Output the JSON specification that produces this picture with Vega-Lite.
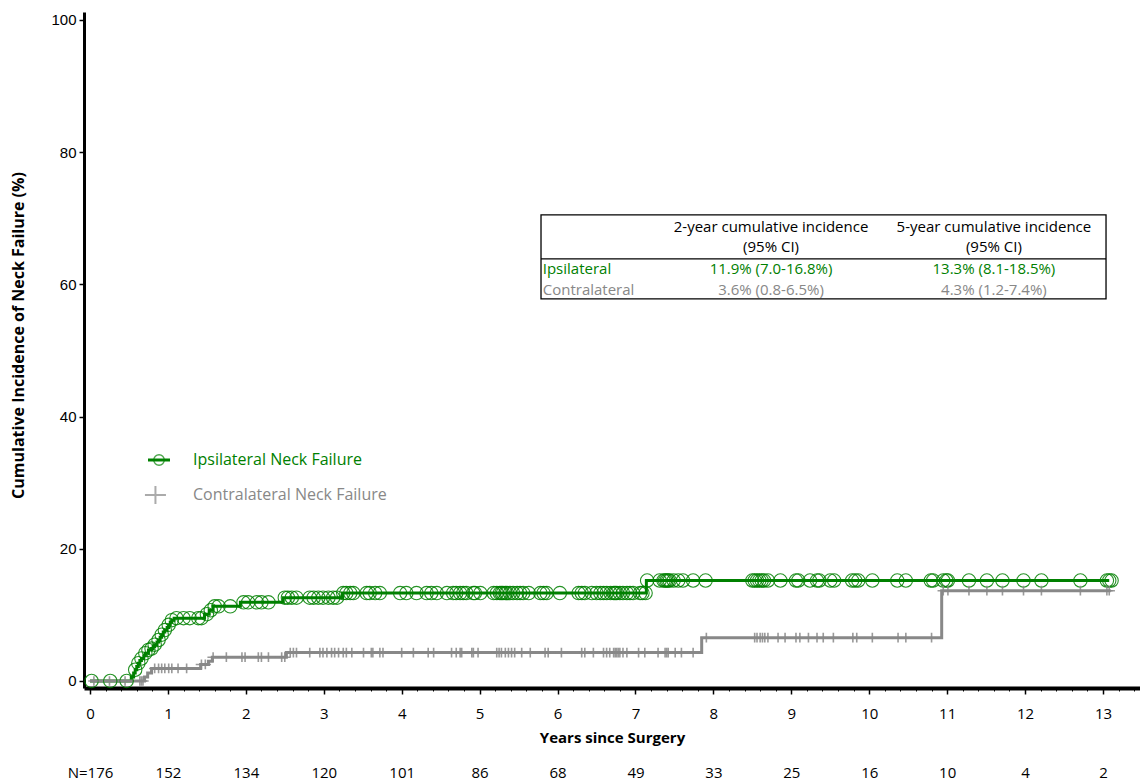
{
  "$schema": "https://vega.github.io/schema/vega-lite/v6.json",
  "width": 1056,
  "height": 676,
  "autosize": {"type": "none"},
  "padding": {"left": 84, "top": 12, "right": 0, "bottom": 96},
  "background": "white",
  "config": {"view": {"stroke": null}},
  "datasets": {
    "curves": [
      {"series": "Ipsilateral Neck Failure", "t": 0, "ci": 0},
      {"series": "Ipsilateral Neck Failure", "t": 0.53, "ci": 0.6},
      {"series": "Ipsilateral Neck Failure", "t": 0.56, "ci": 1.2},
      {"series": "Ipsilateral Neck Failure", "t": 0.58, "ci": 1.7},
      {"series": "Ipsilateral Neck Failure", "t": 0.6, "ci": 2.2},
      {"series": "Ipsilateral Neck Failure", "t": 0.62, "ci": 2.7},
      {"series": "Ipsilateral Neck Failure", "t": 0.64, "ci": 3.1},
      {"series": "Ipsilateral Neck Failure", "t": 0.66, "ci": 3.4},
      {"series": "Ipsilateral Neck Failure", "t": 0.69, "ci": 3.8},
      {"series": "Ipsilateral Neck Failure", "t": 0.71, "ci": 4.2},
      {"series": "Ipsilateral Neck Failure", "t": 0.75, "ci": 4.7},
      {"series": "Ipsilateral Neck Failure", "t": 0.79, "ci": 4.9},
      {"series": "Ipsilateral Neck Failure", "t": 0.81, "ci": 5.2},
      {"series": "Ipsilateral Neck Failure", "t": 0.83, "ci": 5.5},
      {"series": "Ipsilateral Neck Failure", "t": 0.86, "ci": 5.9},
      {"series": "Ipsilateral Neck Failure", "t": 0.88, "ci": 6.2},
      {"series": "Ipsilateral Neck Failure", "t": 0.9, "ci": 6.6},
      {"series": "Ipsilateral Neck Failure", "t": 0.92, "ci": 7.0},
      {"series": "Ipsilateral Neck Failure", "t": 0.94, "ci": 7.4},
      {"series": "Ipsilateral Neck Failure", "t": 0.96, "ci": 7.7},
      {"series": "Ipsilateral Neck Failure", "t": 0.99, "ci": 8.1},
      {"series": "Ipsilateral Neck Failure", "t": 1.01, "ci": 8.5},
      {"series": "Ipsilateral Neck Failure", "t": 1.03, "ci": 8.9},
      {"series": "Ipsilateral Neck Failure", "t": 1.05, "ci": 9.2},
      {"series": "Ipsilateral Neck Failure", "t": 1.08, "ci": 9.5},
      {"series": "Ipsilateral Neck Failure", "t": 1.47, "ci": 10.1},
      {"series": "Ipsilateral Neck Failure", "t": 1.53, "ci": 10.7},
      {"series": "Ipsilateral Neck Failure", "t": 1.58, "ci": 11.3},
      {"series": "Ipsilateral Neck Failure", "t": 1.93, "ci": 11.9},
      {"series": "Ipsilateral Neck Failure", "t": 2.48, "ci": 12.6},
      {"series": "Ipsilateral Neck Failure", "t": 3.24, "ci": 13.3},
      {"series": "Ipsilateral Neck Failure", "t": 7.14, "ci": 15.2},
      {"series": "Ipsilateral Neck Failure", "t": 13.08, "ci": 15.2},
      {"series": "Contralateral Neck Failure", "t": 0, "ci": 0},
      {"series": "Contralateral Neck Failure", "t": 0.7, "ci": 0.6},
      {"series": "Contralateral Neck Failure", "t": 0.74, "ci": 1.2},
      {"series": "Contralateral Neck Failure", "t": 0.79, "ci": 1.9},
      {"series": "Contralateral Neck Failure", "t": 1.42, "ci": 2.5},
      {"series": "Contralateral Neck Failure", "t": 1.52, "ci": 3.0},
      {"series": "Contralateral Neck Failure", "t": 1.57, "ci": 3.6},
      {"series": "Contralateral Neck Failure", "t": 2.52, "ci": 4.3},
      {"series": "Contralateral Neck Failure", "t": 7.85, "ci": 6.55},
      {"series": "Contralateral Neck Failure", "t": 10.93, "ci": 13.66},
      {"series": "Contralateral Neck Failure", "t": 13.1, "ci": 13.66}
    ],
    "censored": [
      {"series": "Ipsilateral Neck Failure", "t": 0.02, "ci": 0},
      {"series": "Ipsilateral Neck Failure", "t": 0.26, "ci": 0},
      {"series": "Ipsilateral Neck Failure", "t": 0.47, "ci": 0},
      {"series": "Ipsilateral Neck Failure", "t": 0.58, "ci": 1.7},
      {"series": "Ipsilateral Neck Failure", "t": 0.62, "ci": 2.7},
      {"series": "Ipsilateral Neck Failure", "t": 0.66, "ci": 3.4},
      {"series": "Ipsilateral Neck Failure", "t": 0.71, "ci": 4.2},
      {"series": "Ipsilateral Neck Failure", "t": 0.75, "ci": 4.7},
      {"series": "Ipsilateral Neck Failure", "t": 0.79, "ci": 4.9},
      {"series": "Ipsilateral Neck Failure", "t": 0.83, "ci": 5.5},
      {"series": "Ipsilateral Neck Failure", "t": 0.88, "ci": 6.2},
      {"series": "Ipsilateral Neck Failure", "t": 0.92, "ci": 7.0},
      {"series": "Ipsilateral Neck Failure", "t": 0.96, "ci": 7.7},
      {"series": "Ipsilateral Neck Failure", "t": 1.01, "ci": 8.5},
      {"series": "Ipsilateral Neck Failure", "t": 1.05, "ci": 9.2},
      {"series": "Ipsilateral Neck Failure", "t": 1.11, "ci": 9.5},
      {"series": "Ipsilateral Neck Failure", "t": 1.2, "ci": 9.5},
      {"series": "Ipsilateral Neck Failure", "t": 1.28, "ci": 9.5},
      {"series": "Ipsilateral Neck Failure", "t": 1.39, "ci": 9.5},
      {"series": "Ipsilateral Neck Failure", "t": 1.43, "ci": 9.5},
      {"series": "Ipsilateral Neck Failure", "t": 1.5, "ci": 10.1},
      {"series": "Ipsilateral Neck Failure", "t": 1.55, "ci": 10.7},
      {"series": "Ipsilateral Neck Failure", "t": 1.6, "ci": 11.3},
      {"series": "Ipsilateral Neck Failure", "t": 1.65, "ci": 11.3},
      {"series": "Ipsilateral Neck Failure", "t": 1.8, "ci": 11.3},
      {"series": "Ipsilateral Neck Failure", "t": 1.97, "ci": 11.9},
      {"series": "Ipsilateral Neck Failure", "t": 2.03, "ci": 11.9},
      {"series": "Ipsilateral Neck Failure", "t": 2.14, "ci": 11.9},
      {"series": "Ipsilateral Neck Failure", "t": 2.2, "ci": 11.9},
      {"series": "Ipsilateral Neck Failure", "t": 2.29, "ci": 11.9},
      {"series": "Ipsilateral Neck Failure", "t": 2.5, "ci": 12.6},
      {"series": "Ipsilateral Neck Failure", "t": 2.54, "ci": 12.6},
      {"series": "Ipsilateral Neck Failure", "t": 2.59, "ci": 12.6},
      {"series": "Ipsilateral Neck Failure", "t": 2.65, "ci": 12.6},
      {"series": "Ipsilateral Neck Failure", "t": 2.82, "ci": 12.6},
      {"series": "Ipsilateral Neck Failure", "t": 2.87, "ci": 12.6},
      {"series": "Ipsilateral Neck Failure", "t": 2.93, "ci": 12.6},
      {"series": "Ipsilateral Neck Failure", "t": 2.99, "ci": 12.6},
      {"series": "Ipsilateral Neck Failure", "t": 3.06, "ci": 12.6},
      {"series": "Ipsilateral Neck Failure", "t": 3.12, "ci": 12.6},
      {"series": "Ipsilateral Neck Failure", "t": 3.17, "ci": 12.6},
      {"series": "Ipsilateral Neck Failure", "t": 3.25, "ci": 13.3},
      {"series": "Ipsilateral Neck Failure", "t": 3.29, "ci": 13.3},
      {"series": "Ipsilateral Neck Failure", "t": 3.34, "ci": 13.3},
      {"series": "Ipsilateral Neck Failure", "t": 3.38, "ci": 13.3},
      {"series": "Ipsilateral Neck Failure", "t": 3.55, "ci": 13.3},
      {"series": "Ipsilateral Neck Failure", "t": 3.59, "ci": 13.3},
      {"series": "Ipsilateral Neck Failure", "t": 3.66, "ci": 13.3},
      {"series": "Ipsilateral Neck Failure", "t": 3.72, "ci": 13.3},
      {"series": "Ipsilateral Neck Failure", "t": 3.98, "ci": 13.3},
      {"series": "Ipsilateral Neck Failure", "t": 4.06, "ci": 13.3},
      {"series": "Ipsilateral Neck Failure", "t": 4.19, "ci": 13.3},
      {"series": "Ipsilateral Neck Failure", "t": 4.32, "ci": 13.3},
      {"series": "Ipsilateral Neck Failure", "t": 4.38, "ci": 13.3},
      {"series": "Ipsilateral Neck Failure", "t": 4.45, "ci": 13.3},
      {"series": "Ipsilateral Neck Failure", "t": 4.58, "ci": 13.3},
      {"series": "Ipsilateral Neck Failure", "t": 4.66, "ci": 13.3},
      {"series": "Ipsilateral Neck Failure", "t": 4.7, "ci": 13.3},
      {"series": "Ipsilateral Neck Failure", "t": 4.75, "ci": 13.3},
      {"series": "Ipsilateral Neck Failure", "t": 4.79, "ci": 13.3},
      {"series": "Ipsilateral Neck Failure", "t": 4.83, "ci": 13.3},
      {"series": "Ipsilateral Neck Failure", "t": 4.92, "ci": 13.3},
      {"series": "Ipsilateral Neck Failure", "t": 4.94, "ci": 13.3},
      {"series": "Ipsilateral Neck Failure", "t": 5.01, "ci": 13.3},
      {"series": "Ipsilateral Neck Failure", "t": 5.18, "ci": 13.3},
      {"series": "Ipsilateral Neck Failure", "t": 5.22, "ci": 13.3},
      {"series": "Ipsilateral Neck Failure", "t": 5.26, "ci": 13.3},
      {"series": "Ipsilateral Neck Failure", "t": 5.28, "ci": 13.3},
      {"series": "Ipsilateral Neck Failure", "t": 5.3, "ci": 13.3},
      {"series": "Ipsilateral Neck Failure", "t": 5.33, "ci": 13.3},
      {"series": "Ipsilateral Neck Failure", "t": 5.35, "ci": 13.3},
      {"series": "Ipsilateral Neck Failure", "t": 5.39, "ci": 13.3},
      {"series": "Ipsilateral Neck Failure", "t": 5.43, "ci": 13.3},
      {"series": "Ipsilateral Neck Failure", "t": 5.48, "ci": 13.3},
      {"series": "Ipsilateral Neck Failure", "t": 5.52, "ci": 13.3},
      {"series": "Ipsilateral Neck Failure", "t": 5.56, "ci": 13.3},
      {"series": "Ipsilateral Neck Failure", "t": 5.63, "ci": 13.3},
      {"series": "Ipsilateral Neck Failure", "t": 5.78, "ci": 13.3},
      {"series": "Ipsilateral Neck Failure", "t": 5.82, "ci": 13.3},
      {"series": "Ipsilateral Neck Failure", "t": 5.86, "ci": 13.3},
      {"series": "Ipsilateral Neck Failure", "t": 6.03, "ci": 13.3},
      {"series": "Ipsilateral Neck Failure", "t": 6.27, "ci": 13.3},
      {"series": "Ipsilateral Neck Failure", "t": 6.31, "ci": 13.3},
      {"series": "Ipsilateral Neck Failure", "t": 6.35, "ci": 13.3},
      {"series": "Ipsilateral Neck Failure", "t": 6.44, "ci": 13.3},
      {"series": "Ipsilateral Neck Failure", "t": 6.5, "ci": 13.3},
      {"series": "Ipsilateral Neck Failure", "t": 6.55, "ci": 13.3},
      {"series": "Ipsilateral Neck Failure", "t": 6.59, "ci": 13.3},
      {"series": "Ipsilateral Neck Failure", "t": 6.63, "ci": 13.3},
      {"series": "Ipsilateral Neck Failure", "t": 6.68, "ci": 13.3},
      {"series": "Ipsilateral Neck Failure", "t": 6.72, "ci": 13.3},
      {"series": "Ipsilateral Neck Failure", "t": 6.74, "ci": 13.3},
      {"series": "Ipsilateral Neck Failure", "t": 6.76, "ci": 13.3},
      {"series": "Ipsilateral Neck Failure", "t": 6.8, "ci": 13.3},
      {"series": "Ipsilateral Neck Failure", "t": 6.84, "ci": 13.3},
      {"series": "Ipsilateral Neck Failure", "t": 6.89, "ci": 13.3},
      {"series": "Ipsilateral Neck Failure", "t": 6.93, "ci": 13.3},
      {"series": "Ipsilateral Neck Failure", "t": 6.97, "ci": 13.3},
      {"series": "Ipsilateral Neck Failure", "t": 7.06, "ci": 13.3},
      {"series": "Ipsilateral Neck Failure", "t": 7.09, "ci": 13.3},
      {"series": "Ipsilateral Neck Failure", "t": 7.13, "ci": 13.3},
      {"series": "Ipsilateral Neck Failure", "t": 7.15, "ci": 15.2},
      {"series": "Ipsilateral Neck Failure", "t": 7.31, "ci": 15.2},
      {"series": "Ipsilateral Neck Failure", "t": 7.36, "ci": 15.2},
      {"series": "Ipsilateral Neck Failure", "t": 7.38, "ci": 15.2},
      {"series": "Ipsilateral Neck Failure", "t": 7.4, "ci": 15.2},
      {"series": "Ipsilateral Neck Failure", "t": 7.42, "ci": 15.2},
      {"series": "Ipsilateral Neck Failure", "t": 7.44, "ci": 15.2},
      {"series": "Ipsilateral Neck Failure", "t": 7.49, "ci": 15.2},
      {"series": "Ipsilateral Neck Failure", "t": 7.55, "ci": 15.2},
      {"series": "Ipsilateral Neck Failure", "t": 7.61, "ci": 15.2},
      {"series": "Ipsilateral Neck Failure", "t": 7.74, "ci": 15.2},
      {"series": "Ipsilateral Neck Failure", "t": 7.9, "ci": 15.2},
      {"series": "Ipsilateral Neck Failure", "t": 8.5, "ci": 15.2},
      {"series": "Ipsilateral Neck Failure", "t": 8.53, "ci": 15.2},
      {"series": "Ipsilateral Neck Failure", "t": 8.56, "ci": 15.2},
      {"series": "Ipsilateral Neck Failure", "t": 8.59, "ci": 15.2},
      {"series": "Ipsilateral Neck Failure", "t": 8.62, "ci": 15.2},
      {"series": "Ipsilateral Neck Failure", "t": 8.65, "ci": 15.2},
      {"series": "Ipsilateral Neck Failure", "t": 8.7, "ci": 15.2},
      {"series": "Ipsilateral Neck Failure", "t": 8.86, "ci": 15.2},
      {"series": "Ipsilateral Neck Failure", "t": 9.06, "ci": 15.2},
      {"series": "Ipsilateral Neck Failure", "t": 9.09, "ci": 15.2},
      {"series": "Ipsilateral Neck Failure", "t": 9.24, "ci": 15.2},
      {"series": "Ipsilateral Neck Failure", "t": 9.33, "ci": 15.2},
      {"series": "Ipsilateral Neck Failure", "t": 9.36, "ci": 15.2},
      {"series": "Ipsilateral Neck Failure", "t": 9.5, "ci": 15.2},
      {"series": "Ipsilateral Neck Failure", "t": 9.55, "ci": 15.2},
      {"series": "Ipsilateral Neck Failure", "t": 9.78, "ci": 15.2},
      {"series": "Ipsilateral Neck Failure", "t": 9.82, "ci": 15.2},
      {"series": "Ipsilateral Neck Failure", "t": 9.86, "ci": 15.2},
      {"series": "Ipsilateral Neck Failure", "t": 10.04, "ci": 15.2},
      {"series": "Ipsilateral Neck Failure", "t": 10.36, "ci": 15.2},
      {"series": "Ipsilateral Neck Failure", "t": 10.47, "ci": 15.2},
      {"series": "Ipsilateral Neck Failure", "t": 10.79, "ci": 15.2},
      {"series": "Ipsilateral Neck Failure", "t": 10.82, "ci": 15.2},
      {"series": "Ipsilateral Neck Failure", "t": 10.95, "ci": 15.2},
      {"series": "Ipsilateral Neck Failure", "t": 10.99, "ci": 15.2},
      {"series": "Ipsilateral Neck Failure", "t": 11.01, "ci": 15.2},
      {"series": "Ipsilateral Neck Failure", "t": 11.28, "ci": 15.2},
      {"series": "Ipsilateral Neck Failure", "t": 11.51, "ci": 15.2},
      {"series": "Ipsilateral Neck Failure", "t": 11.71, "ci": 15.2},
      {"series": "Ipsilateral Neck Failure", "t": 11.98, "ci": 15.2},
      {"series": "Ipsilateral Neck Failure", "t": 12.21, "ci": 15.2},
      {"series": "Ipsilateral Neck Failure", "t": 12.71, "ci": 15.2},
      {"series": "Ipsilateral Neck Failure", "t": 13.05, "ci": 15.2},
      {"series": "Ipsilateral Neck Failure", "t": 13.08, "ci": 15.2},
      {"series": "Ipsilateral Neck Failure", "t": 13.11, "ci": 15.2},
      {"series": "Contralateral Neck Failure", "t": 0.05, "ci": 0},
      {"series": "Contralateral Neck Failure", "t": 0.25, "ci": 0},
      {"series": "Contralateral Neck Failure", "t": 0.45, "ci": 0},
      {"series": "Contralateral Neck Failure", "t": 0.64, "ci": 0},
      {"series": "Contralateral Neck Failure", "t": 0.66, "ci": 0},
      {"series": "Contralateral Neck Failure", "t": 0.68, "ci": 0},
      {"series": "Contralateral Neck Failure", "t": 0.83, "ci": 1.9},
      {"series": "Contralateral Neck Failure", "t": 0.88, "ci": 1.9},
      {"series": "Contralateral Neck Failure", "t": 0.92, "ci": 1.9},
      {"series": "Contralateral Neck Failure", "t": 0.96, "ci": 1.9},
      {"series": "Contralateral Neck Failure", "t": 1.01, "ci": 1.9},
      {"series": "Contralateral Neck Failure", "t": 1.05, "ci": 1.9},
      {"series": "Contralateral Neck Failure", "t": 1.13, "ci": 1.9},
      {"series": "Contralateral Neck Failure", "t": 1.24, "ci": 1.9},
      {"series": "Contralateral Neck Failure", "t": 1.43, "ci": 2.5},
      {"series": "Contralateral Neck Failure", "t": 1.48, "ci": 2.5},
      {"series": "Contralateral Neck Failure", "t": 1.58, "ci": 3.6},
      {"series": "Contralateral Neck Failure", "t": 1.75, "ci": 3.6},
      {"series": "Contralateral Neck Failure", "t": 1.95, "ci": 3.6},
      {"series": "Contralateral Neck Failure", "t": 1.99, "ci": 3.6},
      {"series": "Contralateral Neck Failure", "t": 2.16, "ci": 3.6},
      {"series": "Contralateral Neck Failure", "t": 2.2, "ci": 3.6},
      {"series": "Contralateral Neck Failure", "t": 2.29, "ci": 3.6},
      {"series": "Contralateral Neck Failure", "t": 2.46, "ci": 3.6},
      {"series": "Contralateral Neck Failure", "t": 2.5, "ci": 3.6},
      {"series": "Contralateral Neck Failure", "t": 2.57, "ci": 4.3},
      {"series": "Contralateral Neck Failure", "t": 2.61, "ci": 4.3},
      {"series": "Contralateral Neck Failure", "t": 2.65, "ci": 4.3},
      {"series": "Contralateral Neck Failure", "t": 2.82, "ci": 4.3},
      {"series": "Contralateral Neck Failure", "t": 2.95, "ci": 4.3},
      {"series": "Contralateral Neck Failure", "t": 2.99, "ci": 4.3},
      {"series": "Contralateral Neck Failure", "t": 3.04, "ci": 4.3},
      {"series": "Contralateral Neck Failure", "t": 3.1, "ci": 4.3},
      {"series": "Contralateral Neck Failure", "t": 3.14, "ci": 4.3},
      {"series": "Contralateral Neck Failure", "t": 3.19, "ci": 4.3},
      {"series": "Contralateral Neck Failure", "t": 3.25, "ci": 4.3},
      {"series": "Contralateral Neck Failure", "t": 3.29, "ci": 4.3},
      {"series": "Contralateral Neck Failure", "t": 3.36, "ci": 4.3},
      {"series": "Contralateral Neck Failure", "t": 3.51, "ci": 4.3},
      {"series": "Contralateral Neck Failure", "t": 3.61, "ci": 4.3},
      {"series": "Contralateral Neck Failure", "t": 3.63, "ci": 4.3},
      {"series": "Contralateral Neck Failure", "t": 3.72, "ci": 4.3},
      {"series": "Contralateral Neck Failure", "t": 3.76, "ci": 4.3},
      {"series": "Contralateral Neck Failure", "t": 4.0, "ci": 4.3},
      {"series": "Contralateral Neck Failure", "t": 4.15, "ci": 4.3},
      {"series": "Contralateral Neck Failure", "t": 4.34, "ci": 4.3},
      {"series": "Contralateral Neck Failure", "t": 4.41, "ci": 4.3},
      {"series": "Contralateral Neck Failure", "t": 4.64, "ci": 4.3},
      {"series": "Contralateral Neck Failure", "t": 4.7, "ci": 4.3},
      {"series": "Contralateral Neck Failure", "t": 4.75, "ci": 4.3},
      {"series": "Contralateral Neck Failure", "t": 4.77, "ci": 4.3},
      {"series": "Contralateral Neck Failure", "t": 4.9, "ci": 4.3},
      {"series": "Contralateral Neck Failure", "t": 4.92, "ci": 4.3},
      {"series": "Contralateral Neck Failure", "t": 4.98, "ci": 4.3},
      {"series": "Contralateral Neck Failure", "t": 5.22, "ci": 4.3},
      {"series": "Contralateral Neck Failure", "t": 5.25, "ci": 4.3},
      {"series": "Contralateral Neck Failure", "t": 5.28, "ci": 4.3},
      {"series": "Contralateral Neck Failure", "t": 5.33, "ci": 4.3},
      {"series": "Contralateral Neck Failure", "t": 5.37, "ci": 4.3},
      {"series": "Contralateral Neck Failure", "t": 5.41, "ci": 4.3},
      {"series": "Contralateral Neck Failure", "t": 5.45, "ci": 4.3},
      {"series": "Contralateral Neck Failure", "t": 5.54, "ci": 4.3},
      {"series": "Contralateral Neck Failure", "t": 5.65, "ci": 4.3},
      {"series": "Contralateral Neck Failure", "t": 5.84, "ci": 4.3},
      {"series": "Contralateral Neck Failure", "t": 5.88, "ci": 4.3},
      {"series": "Contralateral Neck Failure", "t": 6.05, "ci": 4.3},
      {"series": "Contralateral Neck Failure", "t": 6.31, "ci": 4.3},
      {"series": "Contralateral Neck Failure", "t": 6.35, "ci": 4.3},
      {"series": "Contralateral Neck Failure", "t": 6.46, "ci": 4.3},
      {"series": "Contralateral Neck Failure", "t": 6.59, "ci": 4.3},
      {"series": "Contralateral Neck Failure", "t": 6.63, "ci": 4.3},
      {"series": "Contralateral Neck Failure", "t": 6.67, "ci": 4.3},
      {"series": "Contralateral Neck Failure", "t": 6.72, "ci": 4.3},
      {"series": "Contralateral Neck Failure", "t": 6.74, "ci": 4.3},
      {"series": "Contralateral Neck Failure", "t": 6.76, "ci": 4.3},
      {"series": "Contralateral Neck Failure", "t": 6.78, "ci": 4.3},
      {"series": "Contralateral Neck Failure", "t": 6.8, "ci": 4.3},
      {"series": "Contralateral Neck Failure", "t": 6.84, "ci": 4.3},
      {"series": "Contralateral Neck Failure", "t": 6.89, "ci": 4.3},
      {"series": "Contralateral Neck Failure", "t": 7.04, "ci": 4.3},
      {"series": "Contralateral Neck Failure", "t": 7.12, "ci": 4.3},
      {"series": "Contralateral Neck Failure", "t": 7.29, "ci": 4.3},
      {"series": "Contralateral Neck Failure", "t": 7.38, "ci": 4.3},
      {"series": "Contralateral Neck Failure", "t": 7.4, "ci": 4.3},
      {"series": "Contralateral Neck Failure", "t": 7.42, "ci": 4.3},
      {"series": "Contralateral Neck Failure", "t": 7.51, "ci": 4.3},
      {"series": "Contralateral Neck Failure", "t": 7.59, "ci": 4.3},
      {"series": "Contralateral Neck Failure", "t": 7.74, "ci": 4.3},
      {"series": "Contralateral Neck Failure", "t": 7.91, "ci": 6.55},
      {"series": "Contralateral Neck Failure", "t": 8.53, "ci": 6.55},
      {"series": "Contralateral Neck Failure", "t": 8.56, "ci": 6.55},
      {"series": "Contralateral Neck Failure", "t": 8.6, "ci": 6.55},
      {"series": "Contralateral Neck Failure", "t": 8.63, "ci": 6.55},
      {"series": "Contralateral Neck Failure", "t": 8.66, "ci": 6.55},
      {"series": "Contralateral Neck Failure", "t": 8.7, "ci": 6.55},
      {"series": "Contralateral Neck Failure", "t": 8.83, "ci": 6.55},
      {"series": "Contralateral Neck Failure", "t": 8.92, "ci": 6.55},
      {"series": "Contralateral Neck Failure", "t": 9.06, "ci": 6.55},
      {"series": "Contralateral Neck Failure", "t": 9.11, "ci": 6.55},
      {"series": "Contralateral Neck Failure", "t": 9.22, "ci": 6.55},
      {"series": "Contralateral Neck Failure", "t": 9.33, "ci": 6.55},
      {"series": "Contralateral Neck Failure", "t": 9.41, "ci": 6.55},
      {"series": "Contralateral Neck Failure", "t": 9.54, "ci": 6.55},
      {"series": "Contralateral Neck Failure", "t": 9.79, "ci": 6.55},
      {"series": "Contralateral Neck Failure", "t": 9.84, "ci": 6.55},
      {"series": "Contralateral Neck Failure", "t": 10.04, "ci": 6.55},
      {"series": "Contralateral Neck Failure", "t": 10.37, "ci": 6.55},
      {"series": "Contralateral Neck Failure", "t": 10.47, "ci": 6.55},
      {"series": "Contralateral Neck Failure", "t": 10.8, "ci": 6.55},
      {"series": "Contralateral Neck Failure", "t": 10.95, "ci": 13.66},
      {"series": "Contralateral Neck Failure", "t": 11.01, "ci": 13.66},
      {"series": "Contralateral Neck Failure", "t": 11.28, "ci": 13.66},
      {"series": "Contralateral Neck Failure", "t": 11.51, "ci": 13.66},
      {"series": "Contralateral Neck Failure", "t": 11.71, "ci": 13.66},
      {"series": "Contralateral Neck Failure", "t": 11.98, "ci": 13.66},
      {"series": "Contralateral Neck Failure", "t": 12.21, "ci": 13.66},
      {"series": "Contralateral Neck Failure", "t": 12.71, "ci": 13.66},
      {"series": "Contralateral Neck Failure", "t": 13.05, "ci": 13.66},
      {"series": "Contralateral Neck Failure", "t": 13.08, "ci": 13.66}
    ]
  },
  "resolve": {"axis": {"x": "independent", "y": "independent"}},
  "layer": [
    {
      "data": {"values": [{"k": 1}]},
      "mark": {"type": "rect", "fill": "white", "stroke": "black", "strokeWidth": 1.3},
      "encoding": {
        "x": {"datum": 5.788, "type": "quantitative", "scale": {"domain": [-0.077, 13.475], "nice": false, "zero": false},
          "axis": {"orient": "bottom", "values": [0.2,0.4,0.6,0.8,1.2,1.4,1.6,1.8,2.2,2.4,2.6,2.8,3.2,3.4,3.6,3.8,4.2,4.4,4.6,4.8,5.2,5.4,5.6,5.8,6.2,6.4,6.6,6.8,7.2,7.4,7.6,7.8,8.2,8.4,8.6,8.8,9.2,9.4,9.6,9.8,10.2,10.4,10.6,10.8,11.2,11.4,11.6,11.8,12.2,12.4,12.6,12.8,13.2,13.4], "labels": false, "domain": false, "ticks": true, "tickSize": 3, "tickWidth": 1, "tickColor": "black", "grid": false, "title": null}},
        "x2": {"datum": 13.039},
        "y": {"datum": 70.5, "type": "quantitative", "scale": {"domain": [-1.06, 101.2], "nice": false, "zero": false}, "axis": null},
        "y2": {"datum": 57.79}
      }
    },
    {
      "data": {"values": [{"k": 1}]},
      "mark": {"type": "rule", "stroke": "black", "strokeWidth": 1.3},
      "encoding": {
        "x": {"datum": 5.788, "type": "quantitative", "axis": null},
        "x2": {"datum": 13.039},
        "y": {"datum": 63.84, "type": "quantitative", "axis": null}
      }
    },
    {
      "data": {"values": [{"k": 1}]},
      "mark": {"type": "text", "font": "Open Sans", "fontSize": 15, "color": "black", "align": "center", "baseline": "middle", "lineHeight": 20},
      "encoding": {
        "x": {"datum": 8.74, "type": "quantitative", "axis": null},
        "y": {"datum": 68.7, "type": "quantitative", "axis": null},
        "text": {"value": ["2-year cumulative incidence", "(95% CI)"]}
      }
    },
    {
      "data": {"values": [{"k": 1}]},
      "mark": {"type": "text", "font": "Open Sans", "fontSize": 15, "color": "black", "align": "center", "baseline": "middle", "lineHeight": 20},
      "encoding": {
        "x": {"datum": 11.6, "type": "quantitative", "axis": null},
        "y": {"datum": 68.7, "type": "quantitative", "axis": null},
        "text": {"value": ["5-year cumulative incidence", "(95% CI)"]}
      }
    },
    {
      "data": {"values": [{"k": 1}]},
      "mark": {"type": "text", "font": "Open Sans", "fontSize": 15, "color": "#008000", "align": "left", "baseline": "middle"},
      "encoding": {
        "x": {"datum": 5.81, "type": "quantitative", "axis": null},
        "y": {"datum": 62.3, "type": "quantitative", "axis": null},
        "text": {"value": "Ipsilateral"}
      }
    },
    {
      "data": {"values": [{"k": 1}]},
      "mark": {"type": "text", "font": "Open Sans", "fontSize": 15, "color": "#888888", "align": "left", "baseline": "middle"},
      "encoding": {
        "x": {"datum": 5.81, "type": "quantitative", "axis": null},
        "y": {"datum": 59.15, "type": "quantitative", "axis": null},
        "text": {"value": "Contralateral"}
      }
    },
    {
      "data": {"values": [{"k": 1}]},
      "mark": {"type": "text", "font": "Open Sans", "fontSize": 15, "color": "#008000", "align": "center", "baseline": "middle"},
      "encoding": {
        "x": {"datum": 8.74, "type": "quantitative", "axis": null},
        "y": {"datum": 62.3, "type": "quantitative", "axis": null},
        "text": {"value": "11.9% (7.0-16.8%)"}
      }
    },
    {
      "data": {"values": [{"k": 1}]},
      "mark": {"type": "text", "font": "Open Sans", "fontSize": 15, "color": "#008000", "align": "center", "baseline": "middle"},
      "encoding": {
        "x": {"datum": 11.6, "type": "quantitative", "axis": null},
        "y": {"datum": 62.3, "type": "quantitative", "axis": null},
        "text": {"value": "13.3% (8.1-18.5%)"}
      }
    },
    {
      "data": {"values": [{"k": 1}]},
      "mark": {"type": "text", "font": "Open Sans", "fontSize": 15, "color": "#888888", "align": "center", "baseline": "middle"},
      "encoding": {
        "x": {"datum": 8.74, "type": "quantitative", "axis": null},
        "y": {"datum": 59.15, "type": "quantitative", "axis": null},
        "text": {"value": "3.6% (0.8-6.5%)"}
      }
    },
    {
      "data": {"values": [{"k": 1}]},
      "mark": {"type": "text", "font": "Open Sans", "fontSize": 15, "color": "#888888", "align": "center", "baseline": "middle"},
      "encoding": {
        "x": {"datum": 11.6, "type": "quantitative", "axis": null},
        "y": {"datum": 59.15, "type": "quantitative", "axis": null},
        "text": {"value": "4.3% (1.2-7.4%)"}
      }
    },
    {
      "data": {"values": [{"k": 1}]},
      "mark": {"type": "rule", "stroke": "#008000", "strokeWidth": 3},
      "encoding": {
        "x": {"datum": 0.744, "type": "quantitative", "axis": null},
        "x2": {"datum": 1.027},
        "y": {"datum": 33.43, "type": "quantitative", "axis": null}
      }
    },
    {
      "data": {"values": [{"k": 1}]},
      "mark": {"type": "point", "shape": "circle", "filled": false, "stroke": "#008000", "strokeWidth": 1.4, "size": 110},
      "encoding": {
        "x": {"datum": 0.886, "type": "quantitative", "axis": null},
        "y": {"datum": 33.43, "type": "quantitative", "axis": null}
      }
    },
    {
      "data": {"values": [{"k": 1}]},
      "mark": {"type": "point", "shape": "M-1,0H1M0,-0.85V0.85", "filled": false, "stroke": "#888888", "strokeWidth": 2, "size": 441},
      "encoding": {
        "x": {"datum": 0.84, "type": "quantitative", "axis": null},
        "y": {"datum": 28.14, "type": "quantitative", "axis": null}
      }
    },
    {
      "data": {"values": [{"k": 1}]},
      "mark": {"type": "text", "font": "Open Sans", "fontSize": 16, "color": "#008000", "align": "left", "baseline": "middle"},
      "encoding": {
        "x": {"datum": 1.322, "type": "quantitative", "axis": null},
        "y": {"datum": 33.43, "type": "quantitative", "axis": null},
        "text": {"value": "Ipsilateral Neck Failure"}
      }
    },
    {
      "data": {"values": [{"k": 1}]},
      "mark": {"type": "text", "font": "Open Sans", "fontSize": 16, "color": "#888888", "align": "left", "baseline": "middle"},
      "encoding": {
        "x": {"datum": 1.322, "type": "quantitative", "axis": null},
        "y": {"datum": 28.14, "type": "quantitative", "axis": null},
        "text": {"value": "Contralateral Neck Failure"}
      }
    },
    {
      "data": {"name": "curves"},
      "mark": {"type": "line", "interpolate": "step-after", "strokeWidth": 3},
      "encoding": {
        "x": {"field": "t", "type": "quantitative",
          "axis": {"orient": "bottom", "values": [0,1,2,3,4,5,6,7,8,9,10,11,12,13], "title": "Years since Surgery", "grid": false,
            "domainColor": "black", "domainWidth": 4, "tickColor": "black", "tickSize": 6, "tickWidth": 1.5,
            "labelFont": "Open Sans", "labelFontSize": 15, "labelColor": "black", "labelPadding": 12, "labelFlush": false, "labelOverlap": false,
            "titleFont": "Open Sans", "titleFontSize": 15, "titleFontWeight": "bold", "titleColor": "black", "titlePadding": 9}},
        "y": {"field": "ci", "type": "quantitative",
          "axis": {"orient": "left", "values": [0,20,40,60,80,100], "title": "Cumulative Incidence of Neck Failure (%)", "grid": false,
            "domainColor": "black", "domainWidth": 3, "tickColor": "black", "tickSize": 5, "tickWidth": 1.5,
            "labelFont": "Liberation Sans", "labelFontSize": 15, "labelColor": "black", "labelPadding": 3,
            "titleFont": "Open Sans", "titleFontSize": 16, "titleFontWeight": "bold", "titleColor": "black",
            "titleX": -66, "titleY": 323, "titleAlign": "center", "titleBaseline": "middle", "titleAngle": -90}},
        "color": {"field": "series", "type": "nominal", "scale": {"domain": ["Ipsilateral Neck Failure", "Contralateral Neck Failure"], "range": ["#008000", "#888888"]}, "legend": null},
        "detail": {"field": "series"}
      }
    },
    {
      "data": {"name": "censored"},
      "mark": {"type": "point", "filled": false, "opacity": 0.85},
      "encoding": {
        "x": {"field": "t", "type": "quantitative",
          "axis": {"orient": "bottom", "values": [0,1,2,3,4,5,6,7,8,9,10,11,12,13], "labelExpr": "['N=176','152','134','120','101','86','68','49','33','25','16','10','4','2'][datum.value]",
            "domain": false, "ticks": false, "grid": false, "offset": 77, "labelPadding": 0, "title": null,
            "labelFont": "Open Sans", "labelFontSize": 15, "labelColor": "black", "labelFlush": false, "labelOverlap": false}},
        "y": {"field": "ci", "type": "quantitative", "axis": null},
        "color": {"field": "series", "type": "nominal", "legend": null},
        "shape": {"field": "series", "type": "nominal", "scale": {"domain": ["Ipsilateral Neck Failure", "Contralateral Neck Failure"], "range": ["circle", "M-1,0H1M0,-0.85V0.85"]}, "legend": null},
        "size": {"field": "series", "type": "nominal", "scale": {"domain": ["Ipsilateral Neck Failure", "Contralateral Neck Failure"], "range": [180, 130]}, "legend": null},
        "strokeWidth": {"field": "series", "type": "nominal", "scale": {"domain": ["Ipsilateral Neck Failure", "Contralateral Neck Failure"], "range": [1.1, 1.6]}, "legend": null}
      }
    }
  ]
}
